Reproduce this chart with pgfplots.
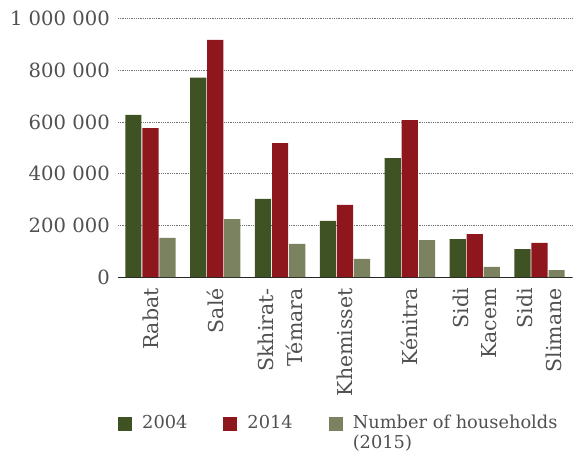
\documentclass[border=0pt]{standalone}
\usepackage{fontspec}
\setmainfont{DejaVu Serif}
\usepackage{pgfplots}
\pgfplotsset{compat=1.18}
\definecolor{cA}{HTML}{3E5223}
\definecolor{cB}{HTML}{8E171E}
\definecolor{cC}{HTML}{7B8260}
\definecolor{txt}{HTML}{505050}
\begin{document}
\begin{tikzpicture}
\useasboundingbox (-118pt,-182pt) rectangle (457pt,277pt);
\begin{axis}[
  at={(0,0)}, anchor=south west,
  scale only axis, width=454pt, height=258.5pt,
  ybar, bar width=0.25,
  xmin=-0.5, xmax=6.5, ymin=0, ymax=1000000,
  xtick={0,...,6},
  xticklabels={Rabat, Salé, {Skhirat-\\Témara}, Khemisset, Kénitra, {Sidi\\Kacem}, {Sidi\\Slimane}},
  ytick={0,200000,...,1000000},
  scaled y ticks=false,
  yticklabel={\pgfmathprintnumber[fixed, precision=0, 1000 sep={\ }, assume math mode=true]{\tick}},
  yticklabel style={font=\fontsize{19.6}{22}\selectfont, text=txt, inner sep=0pt, xshift=-8pt},
  xticklabel style={font=\fontsize{20.5}{28.5}\selectfont, text=txt, inner sep=0pt, yshift=-11pt, rotate=90, anchor=east, align=right},
  major tick length=0pt,
  axis x line*=bottom, axis y line*=left,
  y axis line style={draw=none},
  x axis line style={black!85, line width=0.9pt},
  ymajorgrids, grid style={dash pattern=on 0.9pt off 0.9pt, black!55, line width=0.7pt},
  legend columns=3,
  legend image code/.code={\fill[#1] (0pt,-3pt) rectangle (14pt,11pt);},
  legend style={at={(axis description cs:0,0)}, anchor=north west, yshift=-137pt,
    draw=none, fill=none, inner sep=0pt, font=\fontsize{17.8}{20}\selectfont, text=txt,
    nodes={inner sep=0pt, anchor=base west},
    /tikz/column 1/.style={column sep=10pt},
    /tikz/column 2/.style={column sep=36pt},
    /tikz/column 3/.style={column sep=10pt},
    /tikz/column 4/.style={column sep=36pt},
    /tikz/column 5/.style={column sep=10pt}},
]
\addplot[fill=cA, draw=none, bar shift=-0.263] coordinates {(0,627000) (1,771000) (2,302000) (3,217000) (4,460000) (5,147000) (6,108000)};
\addlegendentry{2004}
\addplot[fill=cB, draw=none, bar shift=0] coordinates {(0,576000) (1,917000) (2,518000) (3,279000) (4,607000) (5,166000) (6,132000)};
\addlegendentry{2014}
\addplot[fill=cC, draw=none, bar shift=0.263] coordinates {(0,151000) (1,224000) (2,128000) (3,70000) (4,143000) (5,39000) (6,27000)};
\addlegendentry{\begin{tabular}[t]{@{}l@{}}Number of households\\(2015)\end{tabular}}
\end{axis}
\end{tikzpicture}
\end{document}
